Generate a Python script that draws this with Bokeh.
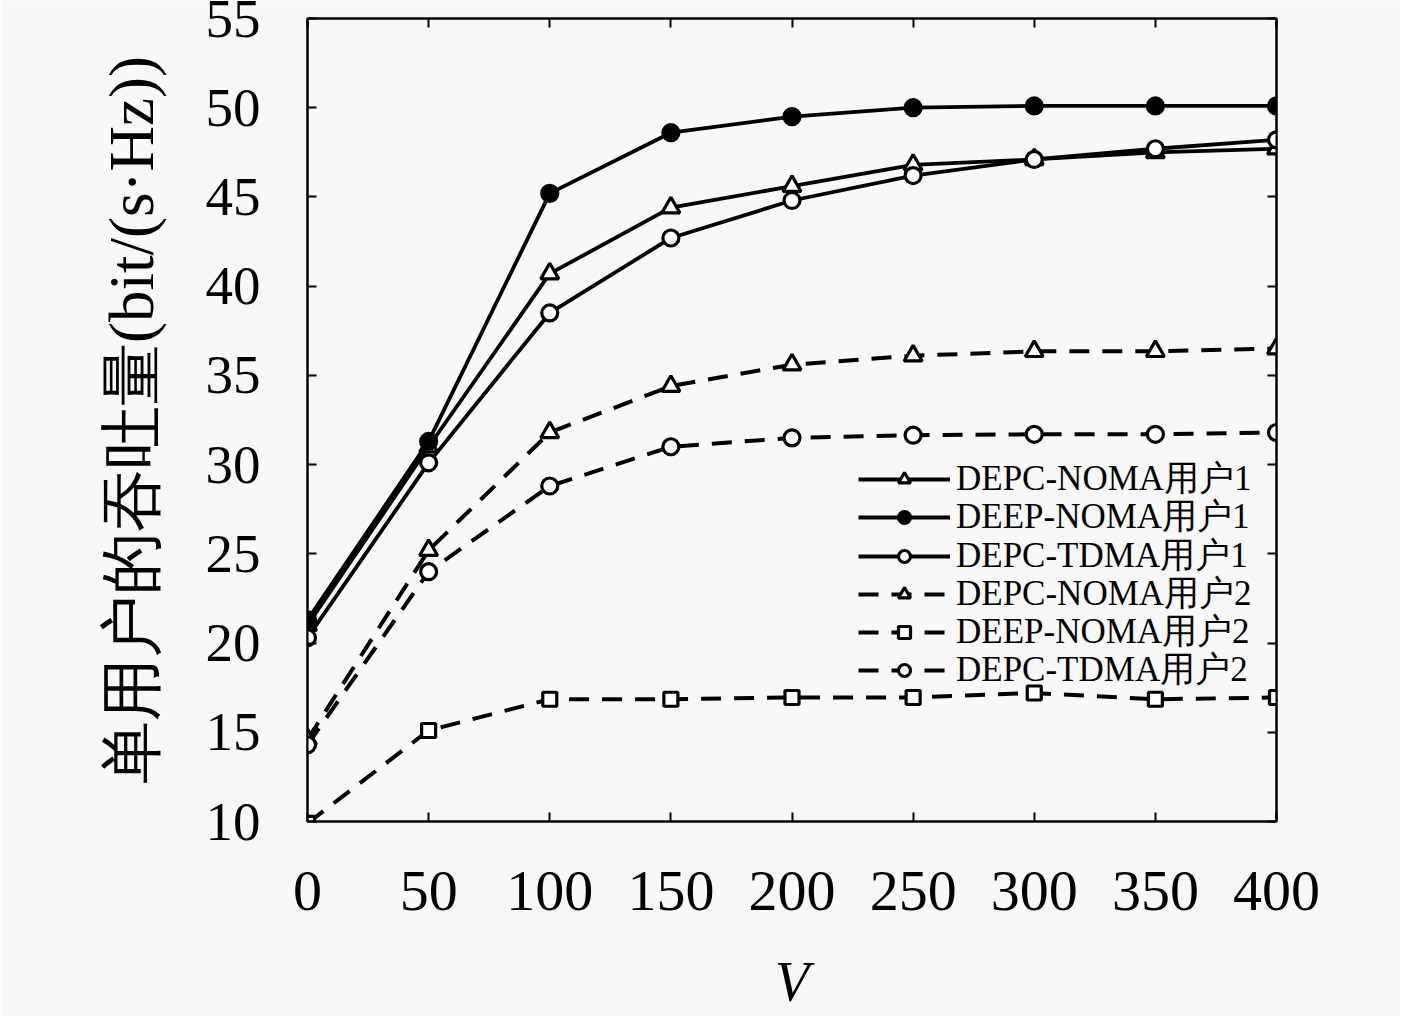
from bokeh.plotting import figure
from bokeh.models import FixedTicker, LinearAxis, Range1d, Legend, LegendItem, CustomJSTickFormatter
from bokeh.embed import file_html
from bokeh.resources import INLINE

V = [0, 50, 100, 150, 200, 250, 300, 350, 400]

depc_noma_u1 = [21.0, 31.0, 40.7, 44.4, 45.6, 46.8, 47.1, 47.5, 47.7]
deep_noma_u1 = [21.3, 31.3, 45.2, 48.6, 49.5, 50.0, 50.1, 50.1, 50.1]
depc_tdma_u1 = [20.3, 30.1, 38.5, 42.7, 44.8, 46.2, 47.1, 47.7, 48.2]
depc_noma_u2 = [14.6, 25.2, 31.8, 34.4, 35.6, 36.1, 36.35, 36.35, 36.5]
deep_noma_u2 = [9.9, 15.1, 16.85, 16.85, 16.95, 16.95, 17.2, 16.85, 16.95]
depc_tdma_u2 = [14.3, 24.0, 28.8, 31.0, 31.5, 31.65, 31.7, 31.7, 31.8]

labels = ["DEPC-NOMA用户1", "DEEP-NOMA用户1", "DEPC-TDMA用户1",
          "DEPC-NOMA用户2", "DEEP-NOMA用户2", "DEPC-TDMA用户2"]
x_ticks = [0, 50, 100, 150, 200, 250, 300, 350, 400]
y_ticks = [10, 15, 20, 25, 30, 35, 40, 45, 50, 55]

SERIF = "Liberation Serif"
BG = "#f8f8f8"

p = figure(width=1400, height=1016, output_backend="svg", toolbar_location=None,
           x_range=Range1d(0, 400), y_range=Range1d(10, 55),
           min_border_left=307, min_border_right=124, min_border_top=18,
           min_border_bottom=195)
p.background_fill_color = BG
p.border_fill_color = BG
p.grid.visible = False
p.outline_line_color = "black"
p.outline_line_width = 2

for ax in (p.xaxis[0], p.yaxis[0]):
    ax.major_tick_in = 9
    ax.major_tick_out = 0
    ax.minor_tick_line_color = None
    ax.axis_line_width = 2
    ax.major_tick_line_width = 2
    ax.major_label_text_font = SERIF
    ax.major_label_text_color = "black"
    ax.axis_label_text_color = "black"

p.xaxis.ticker = FixedTicker(ticks=x_ticks)
p.yaxis.ticker = FixedTicker(ticks=y_ticks)
p.xaxis.major_label_text_font_size = "58px"
p.yaxis.major_label_text_font_size = "55px"
p.xaxis.major_label_standoff = 50
p.yaxis.major_label_standoff = 47
p.xaxis.axis_label = "V"
p.xaxis.axis_label_text_font = SERIF
p.xaxis.axis_label_text_font_style = "italic"
p.xaxis.axis_label_text_font_size = "56px"
p.xaxis.axis_label_standoff = 38
p.yaxis.axis_label = "单用户的吞吐量(bit/(s·Hz))"
p.yaxis.axis_label_text_font = SERIF
p.yaxis.axis_label_text_font_style = "normal"
p.yaxis.axis_label_text_font_size = "63px"
p.yaxis.axis_label_standoff = 36

top = LinearAxis(ticker=FixedTicker(ticks=x_ticks))
right = LinearAxis(ticker=FixedTicker(ticks=y_ticks))
for ax in (top, right):
    ax.major_tick_in = 9
    ax.major_tick_out = 0
    ax.minor_tick_line_color = None
    ax.axis_line_width = 2
    ax.major_tick_line_width = 2
    ax.formatter = CustomJSTickFormatter(code="return ''")
    ax.major_label_text_font_size = "2px"
    ax.major_label_standoff = 0
p.add_layout(top, "above")
p.add_layout(right, "right")

series = [depc_noma_u1, deep_noma_u1, depc_tdma_u1, depc_noma_u2, deep_noma_u2, depc_tdma_u2]
markers = ["triangle", "circle", "circle", "triangle", "square", "circle"]
fills = ["white", "black", "white", "white", "white", "white"]
dashes = ["solid", "solid", "solid", "20 13", "20 13", "20 13"]
widths = [3.8, 3.8, 3.8, 4, 4, 4]
sizes = [18, 16, 16, 18, 14, 16]

for i, (ys, m, f, d, w, s, lab) in enumerate(zip(series, markers, fills, dashes, widths, sizes, labels)):
    r1 = p.line(V, ys, line_color="black", line_width=w, line_dash=d)
    r2 = p.scatter(V, ys, marker=m, size=s, fill_color=f, line_color="black", line_width=3.2)
    legend = Legend(items=[LegendItem(label=lab, renderers=[r1, r2])],
                    location=(551, round(319 - 38.3 * i)))
    legend.label_text_font = SERIF
    legend.label_text_font_size = "35px"
    legend.label_text_line_height = 1.0
    legend.label_text_color = "black"
    legend.glyph_width = 92
    legend.glyph_height = 30
    legend.label_height = 30
    legend.label_standoff = 6
    legend.spacing = 0
    legend.padding = 0
    legend.margin = 0
    legend.border_line_color = None
    legend.background_fill_alpha = 0
    p.add_layout(legend, "center")

open("out.html", "w").write(file_html(p, INLINE))
